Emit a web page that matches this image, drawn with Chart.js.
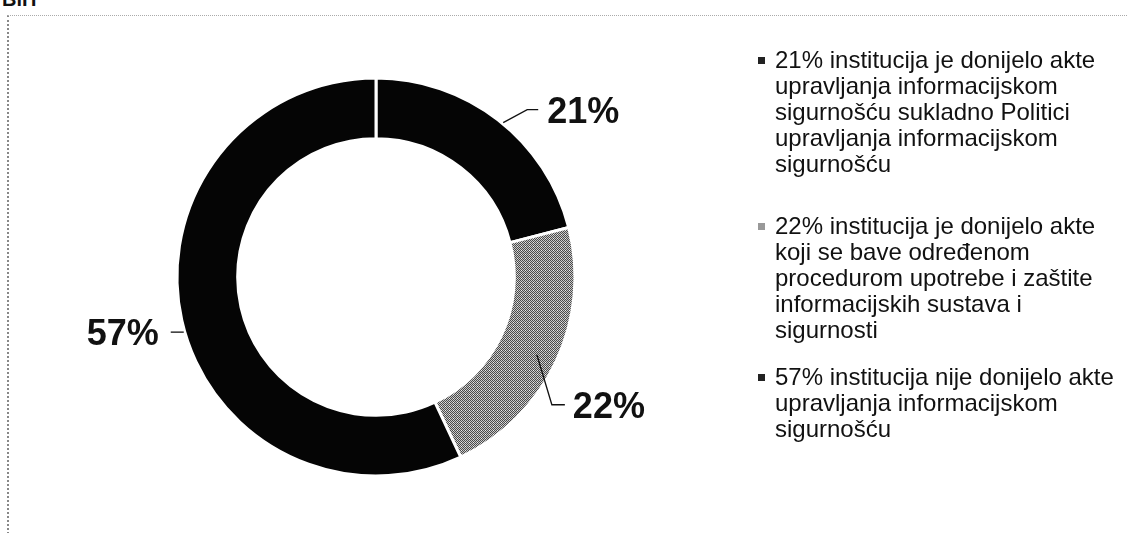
<!DOCTYPE html>
<html>
<head>
<meta charset="utf-8">
<script src="https://cdn.jsdelivr.net/npm/chart.js@4.4.1/dist/chart.umd.min.js"></script>
<style>
    html, body { margin: 0; padding: 0; background: #fff; }
    #wrap { position: relative; width: 1130px; height: 533px; overflow: hidden; font-family: "Liberation Sans", Arial, sans-serif; color: #111; }
    #chart { position: absolute; left: 0; top: 0; }
    #title { position: absolute; left: 2px; top: -12px; font-weight: bold; font-size: 20px; }
    #frame { position: absolute; left: 7px; top: 15px; width: 1118px; height: 530px; border-top: 1px dotted #aaa; border-left: 2px dotted #888; }
    .item { position: absolute; left: 775px; font-size: 24px; }
    .item div { height: 26px; line-height: 26px; white-space: nowrap; }
    .mark { position: absolute; left: -17px; top: 10px; width: 7px; height: 7px; }
</style>
</head>
<body>
<div id="wrap">
    <div id="title">BiH</div>
    <div id="frame"></div>
    <canvas id="chart" width="1130" height="533"></canvas>
    <div id="legend"></div>
</div>
<script>
const sliceLabels = ['21%', '22%', '57%'];
const shares = [21, 22, 57];
const legendLines = [
    ['21% institucija je donijelo akte', 'upravljanja informacijskom', 'sigurnošću sukladno Politici', 'upravljanja informacijskom', 'sigurnošću'],
    ['22% institucija je donijelo akte', 'koji se bave određenom', 'procedurom upotrebe i zaštite', 'informacijskih sustava i', 'sigurnosti'],
    ['57% institucija nije donijelo akte', 'upravljanja informacijskom', 'sigurnošću']
];

// dithered grey like the scan
function greyPattern() {
    const c = document.createElement('canvas');
    c.width = 4; c.height = 4;
    const g = c.getContext('2d');
    for (let y = 0; y < 4; y++) {
        for (let x = 0; x < 4; x++) {
            g.fillStyle = (x + y) % 2 === 0 ? '#4a4a4a' : '#c8c8c8';
            g.fillRect(x, y, 1, 1);
        }
    }
    g.fillStyle = '#eeeeee';
    g.fillRect(1, 2, 1, 1);
    return document.getElementById('chart').getContext('2d').createPattern(c, 'repeat');
}

const grey = greyPattern();
const colors = ['#050505', grey, '#050505'];
const legendColors = ['#222', '#999', '#222'];

// legend
const legend = document.getElementById('legend');
const itemTops = [47, 213, 364];
legendLines.forEach((lines, i) => {
    const el = document.createElement('div');
    el.className = 'item';
    el.style.top = itemTops[i] + 'px';
    el.innerHTML = `<span class="mark" style="background:${legendColors[i]}"></span>` +
        lines.map(l => `<div>${l}</div>`).join('');
    legend.appendChild(el);
});

// leader line shapes per slice (degrees shift from mid angle, elbow offsets)
const callouts = [
    {shift: 1.7, ring: 'outer', dx: 24, dy: -13, run: 11, gap: 9, align: 'left'},
    {shift: 0.6, ring: 'mid', dx: 15, dy: 50, run: 13, gap: 8, align: 'left'},
    {shift: -3.4, ring: 'outer', dx: 0, dy: 0, run: -13, gap: -12, align: 'right'}
];

const calloutPlugin = {
    id: 'callouts',
    afterDatasetsDraw(chart) {
        const ctx = chart.ctx;
        const arcs = chart.getDatasetMeta(0).data;
        ctx.save();
        ctx.strokeStyle = '#111';
        ctx.lineWidth = 1.3;
        ctx.fillStyle = '#111';
        ctx.font = 'bold 36px "Liberation Sans", Arial, sans-serif';
        ctx.textBaseline = 'middle';
        arcs.forEach((arc, i) => {
            const c = callouts[i];
            const {x, y, startAngle, endAngle, innerRadius, outerRadius} = arc.getProps(['x', 'y', 'startAngle', 'endAngle', 'innerRadius', 'outerRadius'], true);
            const mid = (startAngle + endAngle) / 2 + c.shift * Math.PI / 180;
            const r = c.ring === 'mid' ? (innerRadius + outerRadius) / 2 + 10 : outerRadius + 1;
            const sx = x + Math.cos(mid) * r;
            const sy = y + Math.sin(mid) * r;
            const ex = sx + c.dx, ey = sy + c.dy;
            const hx = ex + c.run;
            ctx.beginPath();
            ctx.moveTo(sx, sy);
            ctx.lineTo(ex, ey);
            ctx.lineTo(hx, ey);
            ctx.stroke();
            ctx.textAlign = c.align;
            ctx.fillText(sliceLabels[i], hx + c.gap, ey + 3);
        });
        ctx.restore();
    }
};

new Chart(document.getElementById('chart'), {
    type: 'doughnut',
    data: {
        labels: sliceLabels,
        datasets: [{
            data: shares,
            backgroundColor: colors,
            borderColor: '#ffffff',
            borderWidth: 3,
            hoverOffset: 0
        }]
    },
    options: {
        responsive: false,
        animation: false,
        events: [],
        radius: 199,
        cutout: 138,
        layout: {
            padding: {left: 176, right: 554, top: 77, bottom: 56}
        },
        plugins: {
            legend: {display: false},
            tooltip: {enabled: false}
        }
    },
    plugins: [calloutPlugin]
});
</script>
</body>
</html>
